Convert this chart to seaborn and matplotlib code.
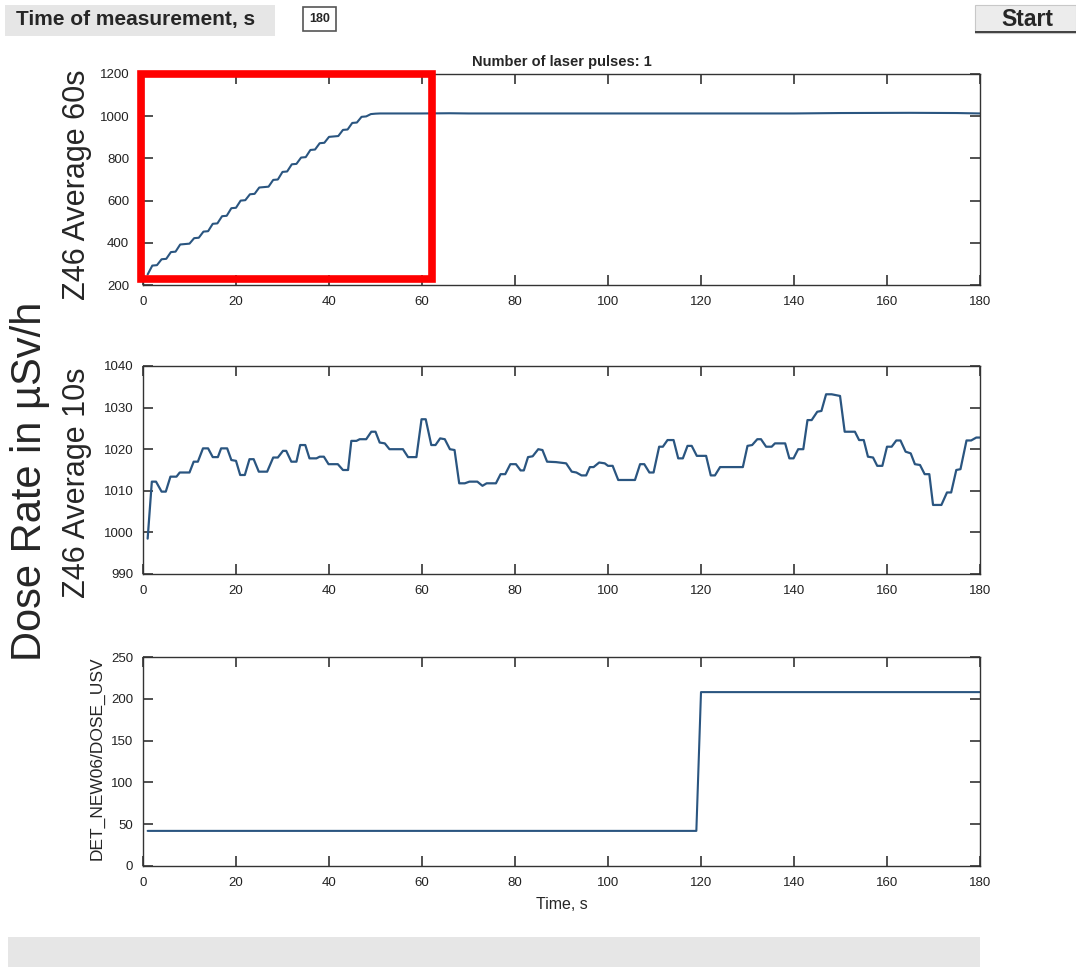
import matplotlib
matplotlib.use("Agg")
import matplotlib.pyplot as plt
from matplotlib.patches import Rectangle
from matplotlib import font_manager as fm
import numpy as np
import pandas as pd
import seaborn as sns

# ---------------- data ----------------
# Z46, 60 s moving average (µSv/h)
avg60_t = [1, 2, 3, 4, 5, 6, 7, 8, 9, 10, 11, 12, 13, 14, 15, 16, 17, 18, 19, 20,
           21, 22, 23, 24, 25, 26, 27, 28, 29, 30, 31, 32, 33, 34, 35, 36, 37, 38, 39, 40,
           41, 42, 43, 44, 45, 46, 47, 48, 49, 50, 51, 60, 66, 70, 140, 150, 165, 175, 180]
avg60_v = [250, 292, 294, 322, 324, 356, 358, 392, 394, 396, 422, 424, 453, 455, 490, 492, 526, 528, 564, 566,
           600, 602, 630, 632, 662, 664, 666, 698, 700, 736, 738, 772, 774, 804, 806, 840, 842, 872, 874, 902,
           904, 906, 935, 937, 968, 970, 997, 999, 1010, 1012, 1013, 1013, 1014, 1013, 1013, 1015, 1016, 1015, 1013]

# Z46, 10 s moving average (µSv/h)
avg10_t = [1, 1.9, 2.8, 4, 4.9, 5.9, 7.2, 7.9, 10, 10.9, 11.8, 12.9, 14, 15, 16.1, 16.8, 18.1, 19, 20, 20.9,
           21.9, 22.9, 23.8, 24.9, 26.7, 28, 29, 30.1, 30.8, 31.9, 33, 33.8, 34.9, 35.8, 37.3, 38, 38.9, 39.9, 41.9, 43,
           44.1, 44.8, 45.9, 46.6, 48, 49.1, 50, 50.9, 52, 53, 55.9, 57, 58.8, 59.9, 60.8, 62, 62.9, 63.9, 64.9, 66,
           67, 68, 69.2, 70.2, 71.9, 73, 73.9, 75.9, 76.9, 77.9, 79, 80.2, 81.2, 81.9, 82.8, 83.8, 85, 85.9, 86.9, 88.8,
           91, 92.2, 93.2, 94.3, 95.3, 96.1, 96.9, 98.1, 99.3, 100, 101, 102.2, 105.8, 106.9, 107.8, 108.9, 109.8, 111, 111.8, 112.8,
           114.1, 115.1, 116.1, 117.1, 118, 119.1, 121.1, 122.1, 123, 124.1, 129, 130, 131, 132.1, 132.9, 134, 135.2, 135.9, 138.1, 139,
           139.9, 140.9, 142, 142.9, 143.8, 145, 145.9, 146.9, 148.1, 149.9, 150.9, 153.1, 154, 155, 155.9, 157, 157.9, 159, 160, 161,
           162, 162.9, 164, 165.1, 166, 167.1, 168.1, 169.1, 169.9, 171.7, 172.9, 173.8, 174.9, 175.8, 177.1, 178.1, 179.2, 180]
avg10_v = [998.5, 1012.2, 1012.2, 1009.8, 1009.8, 1013.4, 1013.4, 1014.4, 1014.4, 1017, 1017, 1020.2, 1020.2, 1018.1, 1018.1, 1020.2, 1020.2, 1017.4, 1017.2, 1013.8,
           1013.8, 1017.6, 1017.6, 1014.6, 1014.6, 1018, 1018, 1019.6, 1019.6, 1017, 1017, 1021, 1021, 1017.8, 1017.8, 1018.2, 1018.2, 1016.4, 1016.4, 1015,
           1015, 1022, 1022, 1022.4, 1022.4, 1024.2, 1024.2, 1021.6, 1021.4, 1020, 1020, 1018.1, 1018.1, 1027.2, 1027.2, 1021, 1021, 1022.6, 1022.4, 1020,
           1019.8, 1011.8, 1011.8, 1012.2, 1012.2, 1011.2, 1011.8, 1011.8, 1014, 1014, 1016.4, 1016.4, 1014.9, 1014.9, 1018.1, 1018.3, 1020, 1019.8, 1017, 1016.9,
           1016.6, 1014.6, 1014.4, 1013.7, 1013.7, 1015.7, 1015.7, 1016.8, 1016.6, 1016, 1016, 1012.6, 1012.6, 1016.4, 1016.4, 1014.4, 1014.4, 1020.6, 1020.6, 1022.2,
           1022.2, 1017.8, 1017.8, 1020.8, 1020.8, 1018.4, 1018.4, 1013.7, 1013.7, 1015.7, 1015.7, 1020.8, 1021, 1022.4, 1022.4, 1020.6, 1020.6, 1021.4, 1021.4, 1017.8,
           1017.8, 1020, 1020, 1027, 1027, 1029, 1029.2, 1033.2, 1033.2, 1032.8, 1024.2, 1024.2, 1022.2, 1022.2, 1018.2, 1018, 1016, 1016, 1020.6, 1020.6,
           1022.1, 1022.1, 1019.4, 1019, 1016.4, 1016.2, 1014, 1014, 1006.6, 1006.6, 1009.6, 1009.6, 1015, 1015.2, 1022.1, 1022.1, 1022.8, 1022.8]

# DET_NEW06 dose
det_t = [1, 119, 120, 180]
det_v = [42, 42, 208, 208]

x_ticks = [0, 20, 40, 60, 80, 100, 120, 140, 160, 180]
top_yticks = [200, 400, 600, 800, 1000, 1200]
mid_yticks = [990, 1000, 1010, 1020, 1030, 1040]
bot_yticks = [0, 50, 100, 150, 200, 250]

# ---------------- style ----------------
sns.set_theme(style="ticks")
names = {f.name for f in fm.fontManager.ttflist}
NARROW = "Liberation Sans Narrow" if "Liberation Sans Narrow" in names else None
BASE = "Liberation Sans"
plt.rcParams["font.family"] = [BASE, "DejaVu Sans"]

W, H = 1076, 967
fig = plt.figure(figsize=(W / 100, H / 100), dpi=100, facecolor="white")


def frac(x, y):
    return x / W, 1 - y / H


def ax_rect(left, top, right, bottom):
    return [left / W, 1 - bottom / H, (right - left) / W, (bottom - top) / H]


LINE = "#2a5580"


def style_axes(ax, yticks, ylim):
    ax.set_xlim(0, 180)
    ax.set_ylim(*ylim)
    ax.set_xticks(x_ticks)
    ax.set_yticks(yticks)
    ax.tick_params(direction="in", length=7, width=1.1, top=True, right=True,
                   labelsize=9.5, pad=7, colors="#222222")
    ax.tick_params(axis="x", pad=8)
    for s in ax.spines.values():
        s.set_visible(True)
        s.set_linewidth(1.0)
        s.set_color("#333333")
    ax.set_xlabel("")
    ax.set_ylabel("")
    ax.set_facecolor("white")


ax1 = fig.add_axes(ax_rect(143, 74, 980, 285))
ax2 = fig.add_axes(ax_rect(143, 366, 980, 574))
ax3 = fig.add_axes(ax_rect(143, 657, 980, 866))

df1 = pd.DataFrame({"t": avg60_t, "v": avg60_v})
df2 = pd.DataFrame({"t": avg10_t, "v": avg10_v})
df3 = pd.DataFrame({"t": det_t, "v": det_v})

sns.lineplot(data=df1, x="t", y="v", ax=ax1, color=LINE, linewidth=1.5, sort=False, estimator=None)
sns.lineplot(data=df2, x="t", y="v", ax=ax2, color=LINE, linewidth=1.6, sort=False, estimator=None)
sns.lineplot(data=df3, x="t", y="v", ax=ax3, color=LINE, linewidth=1.5, sort=False, estimator=None)

style_axes(ax1, top_yticks, (200, 1200))
style_axes(ax2, mid_yticks, (990, 1040))
style_axes(ax3, bot_yticks, (0, 250))
ax1.tick_params(axis="y", pad=10)

# highlight box over the ramp-up of the 60 s average
ax1.add_patch(Rectangle((-0.5, 227), 62.7, 974, fill=False, edgecolor="#ff0000",
                        linewidth=5.5, clip_on=False, zorder=10))

title_kw = dict(fontweight="bold", fontsize=13.5, family=NARROW) if NARROW else dict(fontweight="bold", fontsize=10.5)
ax1.set_title("Number of laser pulses: 1", pad=6, **title_kw)

ax3.set_xlabel("Time, s", fontsize=11.5, labelpad=6)

# axis labels
fig.text(*frac(77, 185), "Z46 Average 60s", rotation=90, fontsize=22, ha="center", va="center")
fig.text(*frac(77, 483), "Z46 Average 10s", rotation=90, fontsize=22, ha="center", va="center")
fig.text(*frac(30, 481), "Dose Rate in µSv/h", rotation=90, fontsize=30, ha="center", va="center")
fig.text(*frac(97, 758), "DET_NEW06/DOSE_USV", rotation=90, fontsize=12.5, ha="center", va="center")

# control panel widgets
ui_bold = dict(fontweight="bold", family=NARROW) if NARROW else dict(fontweight="bold")
fig.add_artist(Rectangle(frac(5, 36), 270 / W, 31 / H, transform=fig.transFigure,
                         facecolor="#e6e6e6", edgecolor="none"))
fig.text(*frac(16, 20), "Time of measurement, s", fontsize=17 if NARROW else 15, ha="left", va="center", **ui_bold)

fig.add_artist(Rectangle(frac(303, 31), 33 / W, 24 / H, transform=fig.transFigure,
                         facecolor="white", edgecolor="#555555", linewidth=1.2))
fig.text(*frac(319.5, 19), "180", fontsize=9, ha="center", va="center", **ui_bold)

fig.add_artist(Rectangle(frac(975, 33), 101 / W, 28 / H, transform=fig.transFigure,
                         facecolor="#ececec", edgecolor="#c8c8c8", linewidth=0.8))
fig.add_artist(Rectangle(frac(975, 33), 101 / W, 2 / H, transform=fig.transFigure,
                         facecolor="#444444", edgecolor="none"))
fig.text(*frac(1027, 19), "Start", fontsize=18 if NARROW else 16.5, ha="center", va="center", **ui_bold)

fig.add_artist(Rectangle(frac(8, 967), 972 / W, 30 / H, transform=fig.transFigure,
                         facecolor="#e6e6e6", edgecolor="none"))

fig.savefig("out.png", dpi=100, facecolor="white")
